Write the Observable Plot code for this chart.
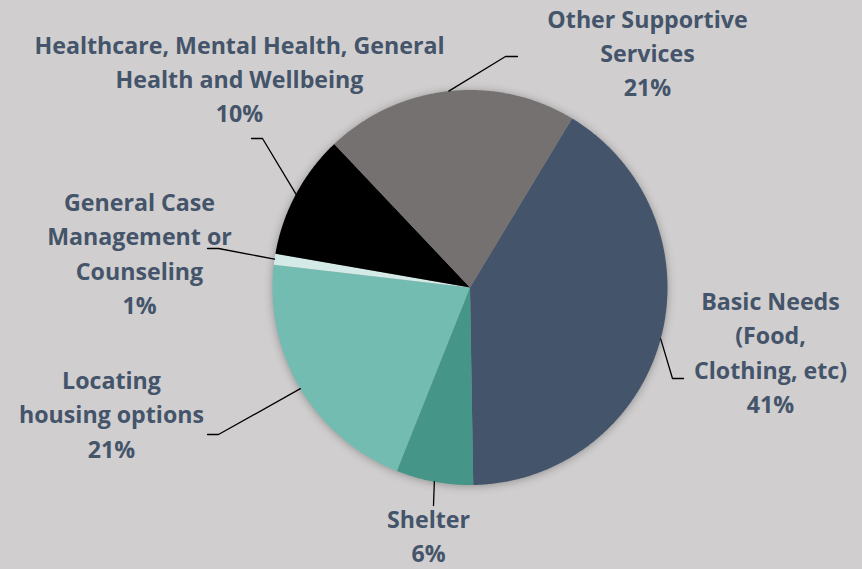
<!DOCTYPE html>
<html><head><meta charset="utf-8">
<script src="https://cdn.jsdelivr.net/npm/d3@7"></script>
<script src="https://cdn.jsdelivr.net/npm/@observablehq/plot@0.6"></script>
<style>html,body{margin:0;padding:0;background:#d0cece;overflow:hidden;}</style>
</head><body><div id="chart"></div>
<script>
// ---- data ----
const categories = ["Basic Needs (Food, Clothing, etc)", "Shelter", "Locating housing options", "General Case Management or Counseling", "Healthcare, Mental Health, General Health and Wellbeing", "Other Supportive Services"];
const shares = [41.1, 6.3, 20.8, 0.9, 10.2, 20.7];
const percentLabels = ["41%", "6%", "21%", "1%", "10%", "21%"];
const labelLines = [["Basic Needs", "(Food,", "Clothing, etc)"], ["Shelter"], ["Locating", "housing options"], ["General Case", "Management or", "Counseling"], ["Healthcare, Mental Health, General", "Health and Wellbeing"], ["Other Supportive", "Services"]];
const colors = ["#44546a", "#459589", "#72bcb1", "#d3eae7", "#000000", "#767171"];
const firstSliceAngle = 31.1;

// ---- layout ----
const W = 862, H = 569, cx = 469.5, cy = 287, R = 197.5;
const labelPos = [[770, 350], [428, 533.5], [111, 412], [139, 251], [239, 76.5], [647, 50.5]];
const leaderBends = [[[672, 378], [683, 378]], [[433, 505]], [[218, 434], [207, 434]], [[218, 248], [207, 248]], [[262, 138], [251, 138]], [[505, 56], [517, 56]]];

const total = d3.sum(shares);
const rad = d => d * Math.PI / 180;
const px = a => cx + R * Math.sin(rad(a));
const py = a => cy - R * Math.cos(rad(a));

const slicePts = [], leaderPts = [], labels = [];
let a = firstSliceAngle;
categories.forEach((cat, i) => {
  const span = shares[i] / total * 360;
  const a0 = a, a1 = a + span;
  slicePts.push({cat, x: cx, y: cy});
  const n = Math.max(2, Math.ceil(span / 0.5));
  for (let k = 0; k <= n; k++) { const t = a0 + span * k / n; slicePts.push({cat, x: px(t), y: py(t)}); }
  slicePts.push({cat, x: cx, y: cy});
  const mid = (a0 + a1) / 2;
  leaderPts.push({cat, x: px(mid), y: py(mid)});
  leaderBends[i].forEach(([x, y]) => leaderPts.push({cat, x, y}));
  labels.push({cat, x: labelPos[i][0], y: labelPos[i][1], t: labelLines[i].concat([percentLabels[i]]).join("\n")});
  a = a1;
});

const plot = Plot.plot({
  width: W, height: H, margin: 0,
  x: {domain: [0, W], range: [0, W], axis: null},
  y: {domain: [0, H], range: [0, H], axis: null},
  color: {domain: categories, range: colors},
  style: {background: "#d0cece", fontFamily: "'Open Sans', sans-serif", overflow: "visible"},
  marks: [
    Plot.line(slicePts, {x: "x", y: "y", z: "cat", fill: "cat", stroke: "none", curve: "linear"}),
    Plot.line(leaderPts, {x: "x", y: "y", z: "cat", stroke: "#000", strokeWidth: 1.3, curve: "linear"}),
    Plot.text(labels, {x: "x", y: "y", text: "t", fill: "#44546a", fontWeight: "bold", fontSize: 23.2, lineHeight: 1.478, lineAnchor: "middle", textAnchor: "middle"})
  ]
});
document.getElementById("chart").appendChild(plot);
const g = plot.querySelectorAll('g[aria-label="line"]')[0];
if (g) g.style.filter = "drop-shadow(0px 1px 4px rgba(0,0,0,0.3))";
</script>
</body></html>
